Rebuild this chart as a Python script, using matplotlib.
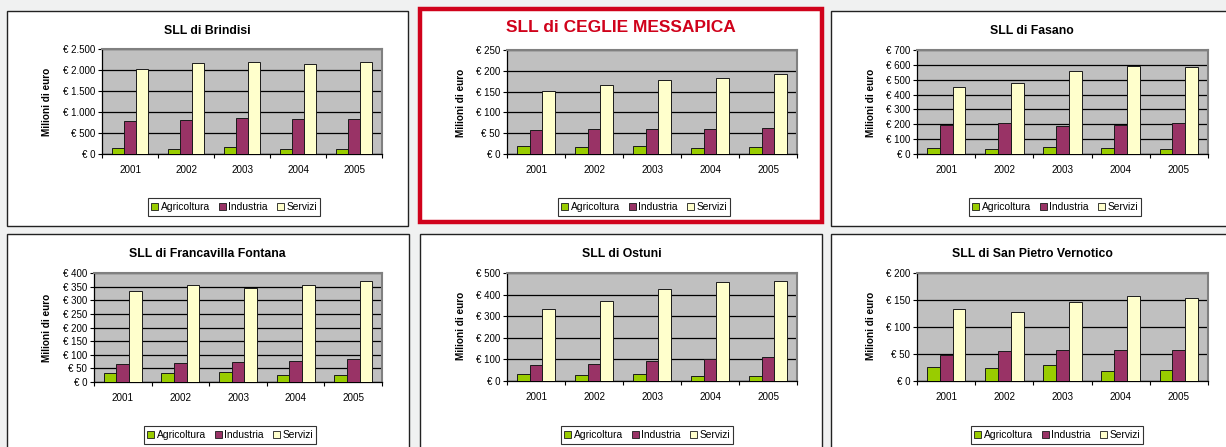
import matplotlib
matplotlib.use("Agg")
import matplotlib.pyplot as plt
from matplotlib.patches import Rectangle, Patch
from matplotlib.ticker import FuncFormatter, MultipleLocator
import numpy as np

plt.rcParams['font.family'] = ['Liberation Sans', 'DejaVu Sans']

W, H = 1226, 447

years = ["2001", "2002", "2003", "2004", "2005"]
sectors = ["Agricoltura", "Industria", "Servizi"]
colors = ["#99cc00", "#993366", "#ffffcc"]

titles = ["SLL di Brindisi", "SLL di CEGLIE MESSAPICA", "SLL di Fasano",
          "SLL di Francavilla Fontana", "SLL di Ostuni", "SLL di San Pietro Vernotico"]

brindisi_agr = [135, 130, 160, 127, 127]
brindisi_ind = [788, 812, 860, 828, 836]
brindisi_ser = [2022, 2158, 2190, 2142, 2190]

ceglie_agr = [19, 17, 20, 15, 17]
ceglie_ind = [58, 59, 60, 60, 62]
ceglie_ser = [151, 166, 178, 182, 192]

fasano_agr = [43, 36, 47, 40, 36]
fasano_ind = [195, 206, 186, 197, 209]
fasano_ser = [449, 478, 556, 595, 583]

francavilla_agr = [34, 32, 35, 26, 27]
francavilla_ind = [67, 70, 73, 78, 84]
francavilla_ser = [333, 355, 345, 356, 371]

ostuni_agr = [32, 29, 34, 25, 25]
ostuni_ind = [75, 80, 94, 100, 111]
ostuni_ser = [334, 371, 426, 458, 462]

sanpietro_agr = [26, 25, 29, 18, 20]
sanpietro_ind = [49, 56, 57, 57, 58]
sanpietro_ser = [134, 127, 146, 158, 154]

series = [
    (brindisi_agr, brindisi_ind, brindisi_ser),
    (ceglie_agr, ceglie_ind, ceglie_ser),
    (fasano_agr, fasano_ind, fasano_ser),
    (francavilla_agr, francavilla_ind, francavilla_ser),
    (ostuni_agr, ostuni_ind, ostuni_ser),
    (sanpietro_agr, sanpietro_ind, sanpietro_ser),
]
y_max = [2500, 250, 700, 400, 500, 200]
y_step = [500, 50, 100, 50, 100, 50]

# layout in pixels: frame, plot area, title centre, ylabel centre, legend centre
frames = [(7, 11, 408, 226), (420, 9, 822, 222), (831, 11, 1232, 226),
          (7, 234, 409, 452), (420, 234, 822, 452), (831, 234, 1232, 452)]
plots = [(102, 49, 382, 154), (507, 50, 797, 154), (917, 50, 1208, 154),
         (94, 273, 382, 382), (507, 273, 797, 381), (917, 273, 1208, 381)]
title_pos = [(207, 31), (621, 27), (1032, 31), (207, 254), (622, 254), (1032, 254)]
ylab_pos = [(47, 102), (461, 103), (871, 103), (47, 328), (461, 326), (871, 326)]
leg_pos = [(234, 207), (644, 207), (1055, 207), (230, 435), (647, 435), (1057, 435)]


def fx(x):
    return x / W


def fy(y):
    return 1 - y / H


fig = plt.figure(figsize=(W / 100, H / 100), dpi=100)
fig.patch.set_facecolor("#f0f1f1")

for i in range(6):
    x0, y0, x1, y1 = frames[i]
    if i == 1:
        fig.patches.append(Rectangle((fx(x0), fy(y1)), fx(x1 - x0), (y1 - y0) / H,
                                     transform=fig.transFigure, facecolor="white",
                                     edgecolor="#d0021b", linewidth=3.2, zorder=-5))
    else:
        fig.patches.append(Rectangle((fx(x0), fy(y1)), fx(x1 - x0), (y1 - y0) / H,
                                     transform=fig.transFigure, facecolor="white",
                                     edgecolor="#222222", linewidth=1.0, zorder=-5))

    px0, py0, px1, py1 = plots[i]
    ax = fig.add_axes([fx(px0), fy(py1), fx(px1 - px0), (py1 - py0) / H])
    ax.set_facecolor("#c0c0c0")

    x = np.arange(len(years))
    w = 0.22
    for k, vals in enumerate(series[i]):
        ax.bar(x + (k - 1) * w, vals, w, color=colors[k], edgecolor="#1a1a1a",
               linewidth=0.7, zorder=3)

    ax.set_xlim(-0.5, len(years) - 0.5)
    ax.set_ylim(0, y_max[i])
    ax.yaxis.set_major_locator(MultipleLocator(y_step[i]))
    ax.yaxis.set_major_formatter(FuncFormatter(lambda v, p: "€ " + f"{int(v):,}".replace(",", ".")))
    ax.grid(axis="y", color="black", linewidth=0.9, zorder=1)
    ax.set_axisbelow(True)

    ax.set_xticks(x)
    ax.set_xticklabels(years)
    ax.set_xticks(np.arange(-0.5, len(years)), minor=True)
    ax.tick_params(axis="x", which="major", length=0, pad=8, labelsize=7.1)
    ax.tick_params(axis="x", which="minor", length=3, direction="out", width=0.8)
    ax.tick_params(axis="y", length=3, direction="out", width=0.8, labelsize=7, pad=2)

    for s in ["top", "right"]:
        ax.spines[s].set_color("#808080")
        ax.spines[s].set_linewidth(1.5)
    for s in ["left", "bottom"]:
        ax.spines[s].set_color("black")
        ax.spines[s].set_linewidth(0.9)

    tx, ty = title_pos[i]
    if i == 1:
        fig.text(fx(tx), fy(ty), titles[i], ha="center", va="center", color="#d0021b",
                 fontsize=12.5, fontweight="bold",
                 family=["Liberation Sans Narrow", "Liberation Sans", "DejaVu Sans"])
    else:
        fig.text(fx(tx), fy(ty), titles[i], ha="center", va="center",
                 fontsize=8.8, fontweight="bold")

    lx, ly = ylab_pos[i]
    fig.text(fx(lx), fy(ly), "Milioni di euro", ha="center", va="center",
             rotation=90, fontsize=7.2, fontweight="bold")

    handles = [Patch(facecolor=colors[k], edgecolor="#1a1a1a", linewidth=0.6)
               for k in range(3)]
    gx, gy = leg_pos[i]
    leg = fig.legend(handles, sectors, loc="center", bbox_to_anchor=(fx(gx), fy(gy)),
                     ncol=3, fontsize=7.4, frameon=True, fancybox=False,
                     handlelength=0.7, handleheight=0.7, handletextpad=0.2,
                     columnspacing=0.9, borderpad=0.35, borderaxespad=0)
    leg.get_frame().set_edgecolor("black")
    leg.get_frame().set_linewidth(0.8)

fig.savefig("out.png", dpi=100, facecolor=fig.get_facecolor())
